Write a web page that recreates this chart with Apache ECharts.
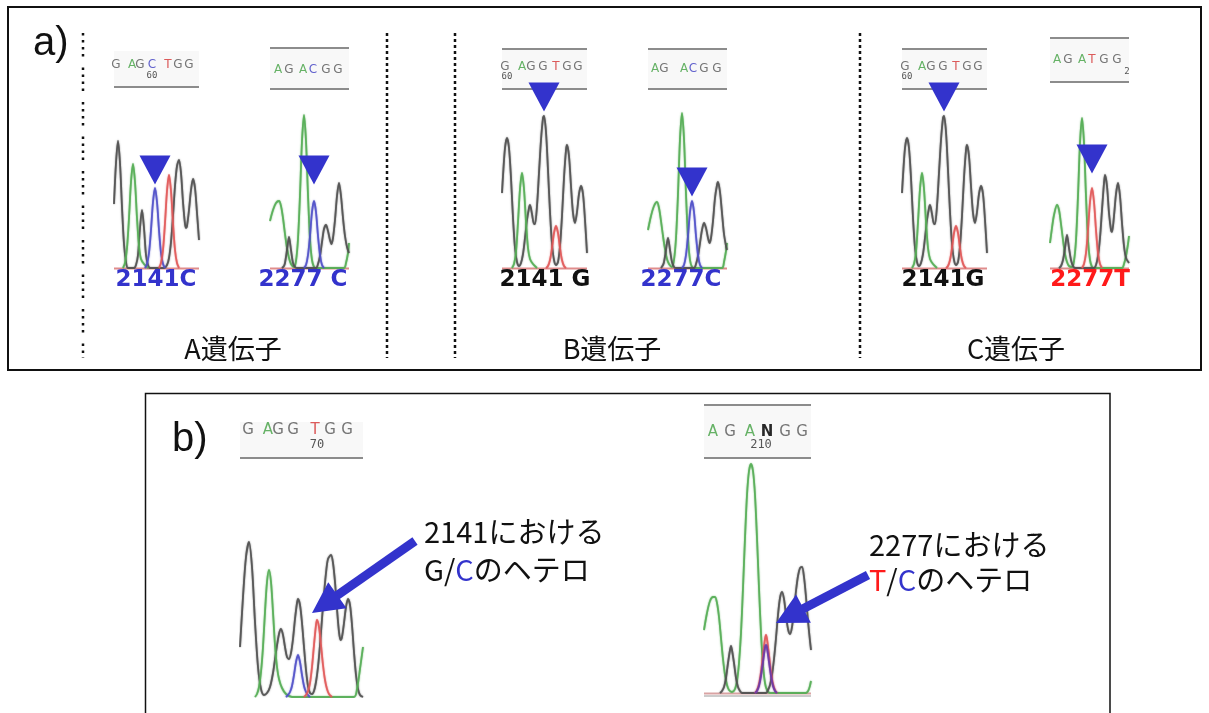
<!DOCTYPE html>
<html>
<head>
<meta charset="utf-8">
<script src="https://cdn.jsdelivr.net/npm/echarts@6/dist/echarts.min.js"></script>
<style>
  html, body { margin: 0; padding: 0; background: #fff; }
  #chart { width: 1209px; height: 713px; }
</style>
</head>
<body>
<div id="chart"></div>
<script>
// ---- Chromatogram traces: [scan position, signal intensity] ----
// A gene, position 2141 (C homozygous)
const A1_black = [[0,64],[2,105],[4,127],[6,105],[8,61],[10,24],[12,6],[14,0],[20,0],[22,3],[24,13],[26,40],[28,58],[30,40],[32,13],[34,3],[36,0],[50,0],[53,3],[55,10],[57,26],[59,52],[61,82],[63,102],[65,108],[67,95],[69,66],[71,44],[72,40],[73,42],[75,58],[77,78],[79,89],[81,80],[83,55],[85,28]];
const A1_green = [[9,0],[11,5],[13,20],[15,50],[17,86],[19,104],[21,86],[23,50],[25,22],[27,9],[30,4],[34,0]];
const A1_blue  = [[31,0],[33,4],[35,15],[37,38],[39,66],[41,80],[43,66],[45,38],[47,15],[49,4],[51,0]];
const A1_red   = [[45,0],[47,5],[49,18],[51,45],[53,77],[55,93],[57,77],[59,45],[61,18],[63,5],[65,0]];
// A gene, position 2277 (C homozygous)
const A2_green = [[0,47],[3,58],[6,65],[9,67],[11,62],[13,50],[15,34],[17,20],[19,10],[21,4],[24,1],[26,7],[28,29],[30,73],[32,127],[34,153],[36,127],[38,73],[40,29],[42,8],[44,1],[46,0],[74,0],[76,5],[78,15],[79,25]];
const A2_black = [[12,0],[14,2],[15,5],[17,18],[19,31],[21,18],[23,5],[25,1],[27,0],[46,0],[48,4],[50,12],[52,26],[54,39],[56,43],[58,37],[60,28],[61.5,24],[63,30],[65,48],[67,72],[69,85],[71,72],[73,50],[75,32],[77,21],[79,15]];
const A2_blue  = [[34,0],[36,3],[38,13],[40,32],[42,56],[44,67],[46,56],[48,32],[50,13],[52,3],[54,0]];
// position 2141 (G homozygous), B and C genes
const G2141_black = [[0,75],[1,92],[3,120],[5,130],[7,120],[9,90],[11,50],[13,20],[15,6],[17,2],[19,5],[21,14],[23,30],[25,48],[27,60],[28,63],[30,54],[32,44],[33,44],[35,62],[37,95],[39,128],[41,150],[42,152],[44,136],[46,98],[48,56],[50,24],[52,8],[54,3],[56,6],[58,22],[60,52],[62,90],[64,118],[65,123],[67,112],[69,82],[71,55],[73,45],[75,56],[77,74],[79,82],[81,74],[83,48],[85,15]];
const G2141_green = [[10,0],[12,4],[14,16],[16,46],[18,79],[20,95],[22,79],[24,46],[26,20],[28,9],[31,4],[35,0]];
const G2141_red   = [[44,0],[46,2],[48,8],[50,20],[52,35],[54,42],[56,35],[58,20],[60,8],[62,2],[64,0]];
// B gene, position 2277 (C homozygous)
const B2_green = [[0,38],[3,52],[6,62],[9,66],[11,60],[13,47],[15,32],[17,19],[19,9],[21,4],[24,1],[26,8],[28,30],[30,74],[32,129],[34,155],[36,129],[38,74],[40,30],[42,8],[44,1],[46,0],[74,0],[76,6],[78,17],[79,25]];
const B2_black = [[13,0],[15,3],[16,6],[18,18],[20,30],[22,18],[24,6],[26,1],[28,0],[46,0],[48,4],[50,12],[52,25],[54,38],[56,45],[58,40],[60,30],[61.5,25],[63,30],[65,47],[67,70],[69,83],[70,86],[72,76],[74,55],[76,34],[78,22],[79,18]];
const B2_blue  = [[34,0],[36,3],[38,13],[40,32],[42,56],[44,67],[46,56],[48,32],[50,13],[52,3],[54,0]];
// C gene, position 2277 (T homozygous)
const C2_green = [[0,25],[2,40],[4,53],[7,63],[9,58],[11,44],[13,28],[15,14],[17,6],[19,2],[22,1],[24,7],[26,28],[28,72],[30,125],[32,150],[34,125],[36,72],[38,28],[40,8],[42,1],[44,0],[72,0],[74,4],[76,12],[78,24],[79,32]];
const C2_black = [[9,0],[11,2],[13,8],[15,20],[17,33],[19,20],[21,8],[23,2],[25,0],[44,0],[46,3],[48,12],[50,30],[52,58],[54,85],[55,93],[57,82],[59,55],[61,38],[62,36],[64,52],[66,74],[68,85],[70,72],[72,45],[74,22],[76,10],[79,5]];
const C2_red   = [[32,0],[34,4],[36,15],[38,38],[40,66],[42,80],[44,66],[46,38],[48,15],[50,4],[52,0]];
// heterozygous 2141 G/C
const H1_black = [[0,50],[3,100],[6,140],[9,155],[12,130],[15,75],[18,30],[21,8],[24,2],[27,4],[30,10],[33,24],[36,45],[39,63],[41,68],[43,62],[45,50],[47,40],[49,38],[51,44],[53,58],[55,78],[57,94],[58,98],[60,92],[62,74],[64,50],[66,27],[68,11],[70,4],[72,3],[74,6],[76,15],[78,30],[80,52],[82,78],[84,103],[86,124],[88,138],[91,142],[93,134],[95,115],[97,88],[99,65],[100.5,57],[102,60],[104,74],[106,90],[108,98],[110,92],[112,72],[114,45],[116,22],[118,8],[120,2],[123,0]];
const H1_green = [[15,0],[17,3],[19,10],[21,25],[23,50],[25,85],[27,115],[29,127],[31,115],[33,85],[35,52],[37,30],[39,18],[42,9],[46,3],[52,0],[114,0],[117,8],[120,28],[123,50]];
const H1_blue  = [[46,0],[48,2],[50,5],[52,11],[54,22],[56,35],[58,42],[60,35],[62,22],[64,11],[66,5],[68,2],[70,0]];
const H1_red   = [[64,0],[66,2],[68,6],[70,14],[72,30],[74,52],[76,72],[77,77],[79,70],[81,52],[83,32],[85,17],[87,8],[89,3],[92,0]];
// heterozygous 2277 T/C
const H2_green = [[0,63],[3,80],[6,92],[9,96],[11,96],[13,90],[15,76],[17,55],[19,34],[21,18],[23,8],[25,3],[28,1],[31,4],[33,12],[35,30],[37,60],[39,105],[41,155],[43,198],[45,222],[47,229],[49,222],[51,198],[53,155],[55,105],[57,60],[59,28],[61,10],[63,3],[66,0],[102,0],[105,4],[107,12]];
const H2_black = [[16,0],[18,2],[20,6],[22,15],[24,30],[26,43],[27,47],[28,43],[30,30],[32,15],[34,6],[36,2],[38,0],[62,0],[64,3],[66,8],[68,18],[70,34],[72,55],[74,78],[76,95],[78,101],[80,94],[82,78],[84,64],[86,59],[88,66],[90,83],[92,102],[94,117],[96,125],[98,126],[100,116],[102,96],[104,72],[106,52],[107,43]];
const H2_red   = [[51,0],[53,3],[55,9],[57,21],[59,38],[61,54],[62,58],[63,54],[65,38],[67,21],[69,9],[71,3],[73,0]];
const H2_blue  = [[51,0],[53,2],[55,7],[57,17],[59,31],[61,45],[62,48],[63,45],[65,31],[67,17],[69,7],[71,2],[73,0]];

// Arrowhead markers above the variant peaks: [scan position, intensity]
const A1_marker = [41, 98];
const A2_marker = [44, 98];
const B1_marker = [42, 171];
const B2_marker = [44, 86];
const C1_marker = [42, 171];
const C2_marker = [42, 109];

// Base-call sequences printed above each trace
const A1_seq = 'G AGC TGG', A1_num = '60';
const A2_seq = 'AG ACG G';
const B1_seq = 'G AGG TGG', B1_num = '60';
const B2_seq = 'AG ACG G';
const C1_seq = 'G AGG TGG', C1_num = '60';
const C2_seq = 'AG ATG G', C2_num = '2';
const H1_seq = 'G AGG TGG', H1_num = '70';
const H2_seq = 'AG ANG G', H2_num = '210';

// Position labels under traces
const posLabels = ['2141C', '2277 C', '2141 G', '2277C', '2141G', '2277T'];
const posLabelColors = ['#3333cc', '#3333cc', '#111', '#3333cc', '#111', '#ff1a1a'];
const geneLabels = ['A遺伝子', 'B遺伝子', 'C遺伝子'];

// ---- layout ----
const traceColor = { black: '#505050', green: '#55ad55', blue: '#5050c8', red: '#e05858', purple: '#6b3aa8' };
const letterColor = { G: '#666', A: '#55aa55', C: '#5050c8', T: '#d84848', N: '#111' };

// x positions of the printed base letters (one per character, spaces skipped)
const panels = [
  { left: 114, width: 85, base: 268, span: 200, xMax: 85,
    traces: [['black', A1_black], ['green', A1_green], ['blue', A1_blue], ['red', A1_red]], marker: A1_marker,
    head: { seq: A1_seq, xs: [116, 0, 132, 140, 152, 0, 168, 178, 189], y: 65, size: 12, num: A1_num, numX: 152, numY: 76, top: null, bottom: 87 } },
  { left: 270, width: 79, base: 268, span: 200, xMax: 79,
    traces: [['green', A2_green], ['black', A2_black], ['blue', A2_blue]], marker: A2_marker,
    head: { seq: A2_seq, xs: [278, 289, 0, 303, 313, 326, 0, 338], y: 70, size: 12, num: null, top: 48, bottom: 89 } },
  { left: 502, width: 85, base: 268, span: 200, xMax: 85,
    traces: [['black', G2141_black], ['green', G2141_green], ['red', G2141_red]], marker: B1_marker,
    head: { seq: B1_seq, xs: [505, 0, 522, 531, 543, 0, 556, 567, 578], y: 67, size: 12, num: B1_num, numX: 507, numY: 77, top: 49, bottom: 89 } },
  { left: 648, width: 79, base: 268, span: 200, xMax: 79,
    traces: [['green', B2_green], ['black', B2_black], ['blue', B2_blue]], marker: B2_marker,
    head: { seq: B2_seq, xs: [655, 664, 0, 684, 693, 704, 0, 717], y: 69, size: 12, num: null, top: 49, bottom: 89 } },
  { left: 902, width: 85, base: 268, span: 200, xMax: 85,
    traces: [['black', G2141_black], ['green', G2141_green], ['red', G2141_red]], marker: C1_marker,
    head: { seq: C1_seq, xs: [905, 0, 922, 931, 943, 0, 956, 967, 978], y: 67, size: 12, num: C1_num, numX: 907, numY: 77, top: 49, bottom: 89 } },
  { left: 1050, width: 79, base: 268, span: 200, xMax: 79,
    traces: [['green', C2_green], ['black', C2_black], ['red', C2_red]], marker: C2_marker,
    head: { seq: C2_seq, xs: [1057, 1068, 0, 1082, 1092, 1104, 0, 1117], y: 60, size: 12, num: C2_num, numX: 1127, numY: 72, top: 38, bottom: 82 } },
  { left: 240, width: 123, base: 697, span: 240, xMax: 123,
    traces: [['black', H1_black], ['green', H1_green], ['blue', H1_blue], ['red', H1_red]], marker: null,
    head: { seq: H1_seq, xs: [248, 0, 268, 278, 293, 0, 315, 330, 347], y: 430, size: 15, num: H1_num, numX: 317, numY: 445, top: null, bottom: 458 } },
  { left: 704, width: 107, base: 693, span: 240, xMax: 107,
    traces: [['green', H2_green], ['black', H2_black], ['red', H2_red], ['purple', H2_blue]], marker: null,
    head: { seq: H2_seq, xs: [713, 730, 0, 750, 767, 785, 0, 802], y: 432, size: 15, num: H2_num, numX: 761, numY: 445, top: 405, bottom: 458 } }
];

const grids = [], xAxes = [], yAxes = [], series = [], graphics = [];

panels.forEach((p, i) => {
  grids.push({ left: p.left, top: p.base - p.span, width: p.width, height: p.span });
  xAxes.push({ gridIndex: i, type: 'value', min: 0, max: p.xMax, show: false });
  yAxes.push({ gridIndex: i, type: 'value', min: 0, max: p.span, show: false });
  p.traces.forEach(([c, data], k) => {
    const s = {
      type: 'line', xAxisIndex: i, yAxisIndex: i, data: data,
      smooth: 0.3, showSymbol: false, symbol: 'none', silent: true,
      lineStyle: { color: traceColor[c], width: 1.8, opacity: 0.85, shadowBlur: 1.5, shadowColor: traceColor[c] }
    };
    if (k === 0 && p.marker) {
      s.markPoint = {
        symbol: 'path://M0,0L10,0L5,9.3Z', symbolSize: [31, 29], silent: true,
        itemStyle: { color: '#3333cc' }, label: { show: false },
        data: [{ coord: p.marker }]
      };
    }
    series.push(s);
  });

  // sequence header
  const h = p.head;
  const x1 = p.left, x2 = p.left + p.width;
  const hTop = h.top || h.bottom - 36;
  graphics.push({ type: 'rect', shape: { x: x1, y: hTop, width: p.width, height: h.bottom - hTop },
                  style: { fill: '#f8f8f8' }, z: 0 });
  if (h.top) graphics.push({ type: 'line', shape: { x1, y1: h.top, x2, y2: h.top }, style: { stroke: '#8c8c8c', lineWidth: 2 }, z: 1 });
  graphics.push({ type: 'line', shape: { x1, y1: h.bottom, x2, y2: h.bottom }, style: { stroke: '#8c8c8c', lineWidth: 2 }, z: 1 });
  [...h.seq].forEach((ch, j) => {
    if (ch === ' ') return;
    graphics.push({ type: 'text', x: h.xs[j], y: h.y, z: 2,
      style: { text: ch, fill: letterColor[ch], font: (ch === 'N' ? 'bold ' : '') + h.size + 'px "DejaVu Sans"',
               align: 'center', verticalAlign: 'middle', textAlign: 'center', textVerticalAlign: 'middle', opacity: 0.9 } });
  });
  if (h.num) graphics.push({ type: 'text', x: h.numX, y: h.numY, z: 2,
      style: { text: h.num, fill: '#555', font: (h.size - 3) + 'px "DejaVu Sans Mono"',
               align: 'center', verticalAlign: 'middle', textAlign: 'center', textVerticalAlign: 'middle' } });
});

// baselines
panels.slice(0, 6).forEach(p => {
  graphics.push({ type: 'line', shape: { x1: p.left, y1: p.base + 0.5, x2: p.left + p.width, y2: p.base + 0.5 },
                  style: { stroke: '#e08c8c', lineWidth: 2 }, z: 3 });
});
graphics.push({ type: 'line', shape: { x1: 704, y1: 693.5, x2: 811, y2: 693.5 }, style: { stroke: '#d9a3a3', lineWidth: 2 }, z: 3 });
graphics.push({ type: 'line', shape: { x1: 704, y1: 696, x2: 811, y2: 696 }, style: { stroke: '#bbb', lineWidth: 1.5 }, z: 3 });

// position labels under the a) traces
const posCenters = [156, 303, 545, 681, 943, 1090];
posLabels.forEach((t, i) => {
  graphics.push({ type: 'text', x: posCenters[i], y: 280, z: 5,
    style: { text: t, fill: posLabelColors[i], font: 'bold 23px "DejaVu Sans"',
             align: 'center', verticalAlign: 'middle', textAlign: 'center', textVerticalAlign: 'middle' } });
});
const geneCenters = [233, 612, 1016];
geneLabels.forEach((t, i) => {
  graphics.push({ type: 'text', x: geneCenters[i], y: 349, z: 5,
    style: { text: t, fill: '#111', font: '27px "Noto Sans CJK JP"',
             align: 'center', verticalAlign: 'middle', textAlign: 'center', textVerticalAlign: 'middle' } });
});

// frames and panel letters
graphics.push({ type: 'rect', shape: { x: 8, y: 7, width: 1193, height: 363 }, style: { fill: null, stroke: '#111', lineWidth: 2 }, z: 6 });
graphics.push({ type: 'rect', shape: { x: 145.5, y: 393.5, width: 964.5, height: 340 }, style: { fill: null, stroke: '#111', lineWidth: 1.5 }, z: 6 });
graphics.push({ type: 'text', x: 33, y: 44, z: 6,
  style: { text: 'a)', fill: '#111', font: '40px "Liberation Sans"', align: 'left', verticalAlign: 'middle', textAlign: 'left', textVerticalAlign: 'middle' } });
graphics.push({ type: 'text', x: 172, y: 440, z: 6,
  style: { text: 'b)', fill: '#111', font: '40px "Liberation Sans"', align: 'left', verticalAlign: 'middle', textAlign: 'left', textVerticalAlign: 'middle' } });

// dotted separators
graphics.push({ type: 'line', shape: { x1: 83, y1: 33, x2: 83, y2: 358 },
  style: { stroke: '#111', lineWidth: 2.5, lineDash: [2.5, 4.5, 2.5, 4.5, 2.5, 4.5, 2.5, 11] }, z: 6 });
[387, 455, 860].forEach(x => {
  graphics.push({ type: 'line', shape: { x1: x, y1: 33, x2: x, y2: 358 },
    style: { stroke: '#111', lineWidth: 2.5, lineDash: [3, 3] }, z: 6 });
});

// annotation arrows in b)
function arrow(tail, tip) {
  const dx = tip[0] - tail[0], dy = tip[1] - tail[1];
  const len = Math.hypot(dx, dy), ux = dx / len, uy = dy / len;
  const hl = 31, hw = 16;
  const bx = tip[0] - ux * hl, by = tip[1] - uy * hl;
  graphics.push({ type: 'line', shape: { x1: tail[0], y1: tail[1], x2: bx + ux * 2, y2: by + uy * 2 },
                  style: { stroke: '#3333cc', lineWidth: 9 }, z: 7 });
  graphics.push({ type: 'polygon', shape: { points: [tip, [bx - uy * hw, by + ux * hw], [bx + uy * hw, by - ux * hw]] },
                  style: { fill: '#3333cc' }, z: 7 });
}
arrow([415, 541], [312, 613]);
arrow([868, 575], [776, 623]);

// annotation texts
const annFont = '29px "Noto Sans CJK JP"';
function ann(x, y, text) {
  graphics.push({ type: 'text', x, y, z: 7,
    style: { text, font: annFont, fill: '#111', align: 'left', verticalAlign: 'middle', textAlign: 'left', textVerticalAlign: 'middle',
             rich: { k: { fill: '#111', font: annFont }, c: { fill: '#3333cc', font: annFont }, t: { fill: '#ff1a1a', font: annFont } } } });
}
ann(424, 532, '{k|2141における}');
ann(424, 570, '{k|G/}{c|C}{k|のヘテロ}');
ann(869, 545, '{k|2277における}');
ann(869, 580, '{t|T}{k|/}{c|C}{k|のヘテロ}');

const chart = echarts.init(document.getElementById('chart'), null, { renderer: 'canvas' });
chart.setOption({
  animation: false,
  backgroundColor: '#fff',
  grid: grids, xAxis: xAxes, yAxis: yAxes, series: series,
  graphic: { elements: graphics }
});
</script>
</body>
</html>
